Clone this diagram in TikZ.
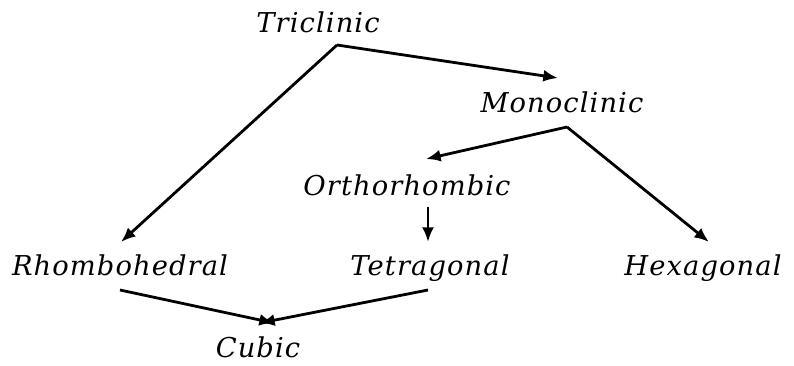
\documentclass[tikz,border=0pt]{standalone}
\usepackage{fontspec}
\setmainfont{DejaVu Serif}
\usepackage{tikz}
\usetikzlibrary{arrows.meta}

\begin{document}
\begin{tikzpicture}[x=0.75pt, y=-0.75pt,
        >={Latex[length=11pt,width=9pt]},   % default arrow tips
        lattice/.style={anchor=base, inner sep=0pt, font=\fontsize{20.5}{24}\selectfont\itshape\addfontfeature{LetterSpace=4}},
        link/.style={->, line width=2.1pt}]
        % picture size
        \useasboundingbox (0,0) rectangle (794,365);
        % crystal systems
        \node[lattice] (tri)   at (318,32)  {Triclinic};
        \node[lattice] (mono)  at (562,112) {Monoclinic};
        \node[lattice] (ortho) at (407,195) {Orthorhombic};
        \node[lattice] (rhomb) at (120,275) {Rhombohedral};
        \node[lattice] (tetra) at (430,275) {Tetragonal};
        \node[lattice] (hexa)  at (703,275) {Hexagonal};
        \node[lattice] (cub)   at (258,357) {Cubic};
        % branch points and arrow ends
        \coordinate (triB)   at (337,45);
        \coordinate (monoIn) at (558,78);
        \coordinate (rhoIn)  at (121,242);
        \coordinate (monoB)  at (567,127);
        \coordinate (ortIn)  at (426,159);
        \coordinate (hexIn)  at (709,242);
        \coordinate (ortB)   at (428,207);
        \coordinate (tetIn)  at (428,242);
        \coordinate (rhoB)   at (120,290);
        \coordinate (tetB)   at (428,290);
        \coordinate (cubL)   at (274,323);
        \coordinate (cubR)   at (260,323);
        % arrows
        \draw[link] (triB) -- (monoIn);
        \draw[link] (triB) -- (rhoIn);
        \draw[link] (monoB) -- (ortIn);
        \draw[link] (monoB) -- (hexIn);
        \draw[link] (ortB) -- (tetIn);
        \draw[link] (rhoB) -- (cubL);
        \draw[link] (tetB) -- (cubR);
\end{tikzpicture}
\end{document}
